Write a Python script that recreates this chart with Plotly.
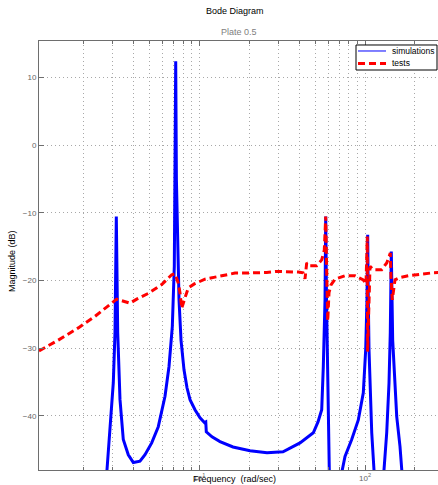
import plotly.graph_objects as go

# ---- data ----
sim_freq = [2.735, 2.892, 3.027, 3.099, 3.156, 3.218, 3.322, 3.477, 3.728, 3.998, 4.386, 4.702,
            5.161, 5.655, 6.209, 6.564, 6.872, 7.066, 7.155, 7.205, 7.275, 7.387, 7.543, 7.755,
            8.085, 8.430, 8.790, 9.419, 10.10, 10.75, 10.94, 11.02, 11.93, 13.33, 15.97, 20.23,
            25.62, 32.00, 40.53, 48.76, 52.04, 54.79, 56.02, 57.37, 57.92, 58.57, 59.55, 61.06,
            70.18, 75.74, 83.12, 91.11, 97.66, 100.97, 102.8, 103.8, 104.7, 105.7, 109.8, 114.6,
            128.4, 135.2, 139.6, 142.1, 144.1, 146.9, 155.4, 162.6, 169.1]
sim_mag = [-50.0, -42.5, -35.1, -27.7, -10.55, -27.7, -37.6, -43.5, -45.75, -46.9, -46.7, -45.75,
           -44.0, -41.6, -37.1, -32.7, -26.8, -17.9, -5.1, 12.4, -5.1, -15.5, -22.8, -28.8,
           -33.2, -35.85, -37.6, -39.1, -40.3, -41.0, -40.9, -42.35, -43.1, -43.8, -44.6, -45.15,
           -45.45, -45.3, -44.0, -42.5, -40.9, -39.1, -32.7, -22.85, -10.55, -22.85, -32.7, -50.0,
           -50.0, -46.0, -43.5, -40.6, -36.6, -30.2, -22.85, -13.25, -22.85, -30.2, -42.5, -50.0,
           -50.0, -42.5, -35.1, -27.7, -15.7, -28.8, -40.1, -44.5, -50.0]

test_freq = [1.078, 1.410, 1.861, 2.347, 3.172, 3.477, 3.818, 4.191, 4.922, 5.932, 6.813, 7.134,
             7.469, 7.647, 7.830, 8.197, 8.582, 9.329, 10.82, 12.44, 14.29, 16.43, 19.13, 22.21,
             25.51, 29.32, 34.44, 39.58, 42.25, 43.44, 44.48, 46.57, 51.10, 54.79, 56.81, 57.92,
             58.41, 59.55, 60.63, 62.34, 65.92, 75.74, 87.00, 97.66, 101.4, 103.2, 103.7, 107.2,
             112.2, 126.2, 135.2, 142.1, 143.5, 146.1, 151.7, 162.6, 182.5, 200.3, 223.9, 257.3, 283.5]
test_mag = [-30.4, -28.8, -27.0, -25.3, -22.75, -23.0, -23.35, -22.75, -21.9, -20.6, -19.15, -19.0,
            -20.4, -21.8, -24.1, -22.55, -21.1, -20.5, -19.8, -19.5, -19.15, -18.9, -18.9, -18.9,
            -18.8, -18.65, -18.65, -18.75, -18.85, -19.75, -17.4, -17.8, -17.8, -16.95, -15.5, -10.55,
            -15.5, -26.0, -21.8, -20.65, -19.8, -19.3, -19.3, -19.9, -20.5, -13.5, -30.5, -17.9,
            -18.4, -18.4, -17.4, -15.95, -19.4, -22.85, -19.9, -19.55, -19.3, -19.15, -19.0, -18.85, -18.8]

series_names = ["simulations", "tests"]
x_major_ticks = [10, 100]
x_major_text = ["10<sup>1</sup>", "10<sup>2</sup>"]
x_minor_ticks = [2, 3, 4, 5, 6, 7, 8, 9, 20, 30, 40, 50, 60, 70, 80, 90, 200]
y_ticks = [-40, -30, -20, -10, 0, 10]

title_text = "Bode Diagram"
subtitle_text = "Plate 0.5"
x_label = "Frequency  (rad/sec)"
y_label = "Magnitude (dB)"

FONT = "Liberation Sans, Arial, Helvetica, sans-serif"
AXC = "#6e6e6e"
GRIDC = "#a8a8a8"
BLUE = "#0000ff"
RED = "#ff0000"
RED_DASH = "7px,4px"

fig = go.Figure()
fig.add_trace(go.Scatter(x=sim_freq, y=sim_mag, mode="lines", name=series_names[0],
                         showlegend=False, line=dict(color=BLUE, width=3)))
fig.add_trace(go.Scatter(x=test_freq, y=test_mag, mode="lines", name=series_names[1],
                         showlegend=False, line=dict(color=RED, width=3, dash=RED_DASH)))

# hand-drawn legend (paper coordinates)
lx0, lx1, ly0, ly1 = 0.7945, 0.9975, 0.9324, 0.9907
shapes = [
    dict(type="rect", xref="paper", yref="paper", x0=lx0, x1=lx1, y0=ly0, y1=ly1,
         line=dict(color="black", width=1), fillcolor="white", layer="above"),
    dict(type="line", xref="paper", yref="paper", x0=0.7995, x1=0.8697, y0=0.9767, y1=0.9767,
         line=dict(color=BLUE, width=1), layer="above"),
    dict(type="line", xref="paper", yref="paper", x0=0.7995, x1=0.8697, y0=0.9476, y1=0.9476,
         line=dict(color=RED, width=3, dash=RED_DASH), layer="above"),
]

fig.update_layout(
    width=438, height=485,
    margin=dict(l=39, r=0, t=41, b=15),
    paper_bgcolor="white", plot_bgcolor="white",
    font=dict(family=FONT, size=9, color="black"),
    showlegend=False,
    xaxis=dict(type="log", range=[0.0326, 2.4405],
               tickmode="array", tickvals=x_major_ticks, ticktext=x_major_text,
               ticks="inside", ticklen=5, tickcolor=AXC,
               showline=True, linecolor=AXC, linewidth=1, mirror="ticks",
               showgrid=True, gridcolor=GRIDC, griddash="1px,3px", gridwidth=1,
               minor=dict(tickmode="array", tickvals=x_minor_ticks, ticks="inside", ticklen=3,
                          tickcolor=AXC, showgrid=True, gridcolor=GRIDC, griddash="1px,3px",
                          gridwidth=1),
               tickfont=dict(size=8, color="#666666"), zeroline=False),
    yaxis=dict(range=[-48.0, 15.4],
               tickmode="array", tickvals=y_ticks,
               ticks="inside", ticklen=5, tickcolor=AXC,
               showline=True, linecolor=AXC, linewidth=1, mirror=False,
               showgrid=True, gridcolor=GRIDC, griddash="1px,3px", gridwidth=1,
               tickfont=dict(size=8, color="#666666"), zeroline=False),
    shapes=shapes,
    annotations=[
        dict(text=title_text, xref="paper", yref="paper", x=0.491, y=1.070,
             showarrow=False, font=dict(size=9, color="black"), xanchor="center", yanchor="middle"),
        dict(text=subtitle_text, xref="paper", yref="paper", x=0.501, y=1.021,
             showarrow=False, font=dict(size=9, color="#808080"), xanchor="center", yanchor="middle"),
        dict(text=x_label, xref="paper", yref="paper", x=0.491, y=-0.021,
             showarrow=False, font=dict(size=9, color="black"), xanchor="center", yanchor="middle"),
        dict(text=y_label, xref="paper", yref="paper", x=-0.0677, y=0.487, textangle=-90,
             showarrow=False, font=dict(size=9, color="black"), xanchor="center", yanchor="middle"),
        dict(text=series_names[0], xref="paper", yref="paper", x=0.8797, y=0.9767,
             showarrow=False, font=dict(size=8.5, color="black"), xanchor="left", yanchor="middle"),
        dict(text=series_names[1], xref="paper", yref="paper", x=0.8797, y=0.9476,
             showarrow=False, font=dict(size=8.5, color="black"), xanchor="left", yanchor="middle"),
    ],
)

fig.write_html(
    "out.html",
    config={"displayModeBar": False},
    post_script="document.body.style.margin='0';document.body.style.overflow='hidden';",
)
